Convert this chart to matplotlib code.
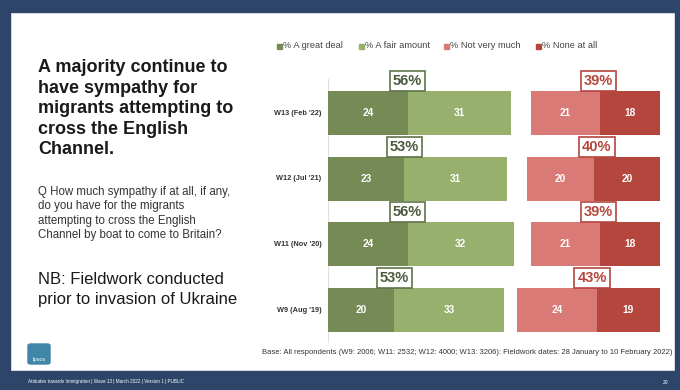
import matplotlib.pyplot as plt
from matplotlib.patches import Rectangle, FancyBboxPatch

plt.rcParams['font.family'] = ['Liberation Sans', 'DejaVu Sans']

# data
waves = ["W13 (Feb '22)", "W12 (Jul '21)", "W11 (Nov '20)", "W9 (Aug '19)"]
great_deal = [24, 23, 24, 20]
fair_amount = [31, 31, 32, 33]
not_very = [21, 20, 21, 24]
none_at_all = [18, 20, 18, 19]
sympathy_net = ["56%", "53%", "56%", "53%"]
no_sympathy_net = ["39%", "40%", "39%", "43%"]
legend_labels = ["% A great deal", "% A fair amount", "% Not very much", "% None at all"]

c_dg = "#768a55"
c_lg = "#97b06e"
c_lr = "#d97a76"
c_dr = "#b4463d"
frame = "#2c4568"

W, H = 680, 390
fig = plt.figure(figsize=(6.8, 3.9), dpi=100)
fig.patch.set_facecolor("white")

def px(x, y):
    return x / W, 1 - y / H

# frame of the slide
fig.patches.append(Rectangle((0, 0), 10 / W, 1, transform=fig.transFigure, color=frame, zorder=0))
fig.patches.append(Rectangle((0, 1 - 12 / H), 1, 12 / H, transform=fig.transFigure, color=frame, zorder=0))
fig.patches.append(Rectangle((675 / W, 0), 5 / W, 1, transform=fig.transFigure, color=frame, zorder=0))
fig.patches.append(Rectangle((0, 0), 1, 19 / H, transform=fig.transFigure, color=frame, zorder=0))

# chart axes
ax = fig.add_axes([328 / W, (H - 343) / H, 332 / W, 268 / H])
ax.set_xlim(0, 100)
ax.set_ylim(3.5, -0.58)
ax.axis("off")
ax.plot([0, 0], [3.5, -0.52], color="#e0e0e0", lw=0.8, zorder=0)

ys = list(range(len(waves)))
h = 0.67
ax.barh(ys, great_deal, height=h, color=c_dg)
ax.barh(ys, fair_amount, left=great_deal, height=h, color=c_lg)
right_left = [100 - (a + b) for a, b in zip(not_very, none_at_all)]
ax.barh(ys, not_very, left=right_left, height=h, color=c_lr)
nl = [r + a for r, a in zip(right_left, not_very)]
ax.barh(ys, none_at_all, left=nl, height=h, color=c_dr)

for i in ys:
    for start, val in [(0, great_deal[i]), (great_deal[i], fair_amount[i]),
                       (right_left[i], not_very[i]), (nl[i], none_at_all[i])]:
        ax.text(start + val / 2, i, str(val), ha="center", va="center",
                color="white", fontsize=7.3, fontweight="bold")
    ax.text(great_deal[i], i - 0.49, sympathy_net[i], ha="center", va="center",
            fontsize=10.5, fontweight="bold", color="#4b5a3d",
            bbox=dict(boxstyle="square,pad=0.2", fc="white", ec="#5f7348", lw=1.2))
    ax.text(right_left[i] + (not_very[i] + none_at_all[i]) / 2 + 1, i - 0.49,
            no_sympathy_net[i], ha="center", va="center",
            fontsize=10.5, fontweight="bold", color="#b4463d",
            bbox=dict(boxstyle="square,pad=0.2", fc="white", ec="#b4463d", lw=1.2))
    ax.text(-2, i, waves[i], ha="right", va="center", fontsize=5.3,
            fontweight="bold", color="#333333")

# legend
leg_x = [277, 359, 444, 536]
for lx, lab, col in zip(leg_x, legend_labels, [c_dg, c_lg, c_lr, c_dr]):
    fig.patches.append(Rectangle(px(lx, 48.5), 5 / W, 5 / H, transform=fig.transFigure, color=col))
    fig.text(*px(lx + 6, 46), lab, fontsize=6.7, color="#444444", va="center")

# left hand text
fig.text(*px(38, 59), "A majority continue to\nhave sympathy for\nmigrants attempting to\ncross the English\nChannel.",
         fontsize=13, fontweight="bold", color="#1a1a1a", va="top", linespacing=1.27)
fig.text(*px(38, 186), "Q How much sympathy if at all, if any,\ndo you have for the migrants\nattempting to cross the English\nChannel by boat to come to Britain?",
         fontsize=8.3, color="#333333", va="top", linespacing=1.25)
fig.text(*px(38, 272), "NB: Fieldwork conducted\nprior to invasion of Ukraine",
         fontsize=12, color="#1a1a1a", va="top", linespacing=1.38)

fig.text(*px(672, 352), "Base: All respondents (W9: 2006; W11: 2532; W12: 4000; W13: 3206): Fieldwork dates: 28 January to 10 February 2022)",
         fontsize=5.5, color="#333333", ha="right", va="center")

# logo
fig.patches.append(FancyBboxPatch(px(28, 364), 22 / W, 20 / H, boxstyle="round,pad=0,rounding_size=0.004",
                                  transform=fig.transFigure, color="#3f86a8"))
fig.text(*px(39, 359), "Ipsos", fontsize=4, color="white", ha="center", va="center")

# footer
fig.text(*px(28, 382), "Attitudes towards Immigration | Wave 13 | March 2022 | Version 1 | PUBLIC",
         fontsize=3.35, color="white", va="center")
fig.text(*px(668, 382), "20", fontsize=3.6, color="white", ha="right", va="center")

fig.savefig("out.png", dpi=100)
